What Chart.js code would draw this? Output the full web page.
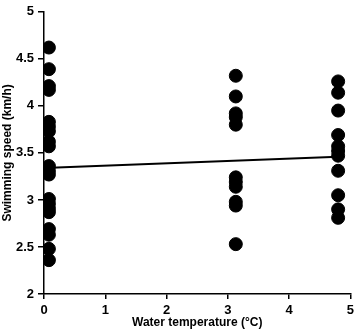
<!DOCTYPE html>
<html>
<head>
<meta charset="utf-8">
<script src="https://cdn.jsdelivr.net/npm/chart.js@4/dist/chart.umd.min.js"></script>
<style>
  html, body { margin: 0; padding: 0; background: #fff; }
  #wrap { width: 358px; height: 331px; }
</style>
</head>
<body>
<div id="wrap"><canvas id="chart" width="358" height="331"></canvas></div>
<script>
  // water temperature of each group (°C)
  const groupTemps = [0.08, 3.13, 4.8];

  // swimming speed (km/h), one list per group
  const speedsAt0 = [4.62, 4.39, 4.21, 4.17, 3.83, 3.78, 3.73, 3.62, 3.57, 3.36, 3.31, 3.27,
    3.01, 2.96, 2.91, 2.87, 2.69, 2.63, 2.48, 2.36];
  const speedsAt3 = [4.32, 4.1, 3.92, 3.88, 3.8, 3.24, 3.19, 3.14, 2.98, 2.94, 2.53];
  const speedsAt5 = [4.26, 4.14, 3.95, 3.69, 3.57, 3.52, 3.47, 3.31, 3.05, 2.9, 2.81];

  // fitted line end points
  const fitTemps = [0, 4.8];
  const fitSpeeds = [3.34, 3.46];

  const xTicks = [0, 1, 2, 3, 4, 5];
  const yTicks = [2, 2.5, 3, 3.5, 4, 4.5, 5];

  const points = [];
  [speedsAt0, speedsAt3, speedsAt5].forEach((list, i) => {
    list.forEach(v => points.push({x: groupTemps[i], y: v}));
  });

  const fitLine = fitTemps.map((t, i) => ({x: t, y: fitSpeeds[i]}));

  const tickFont = {family: '"Liberation Sans", Arial, sans-serif', size: 13, weight: 'bold'};
  const titleFont = {family: '"Liberation Sans", Arial, sans-serif', size: 12, weight: 'bold'};

  new Chart(document.getElementById('chart').getContext('2d'), {
    type: 'scatter',
    data: {
      datasets: [
        {
          data: points,
          backgroundColor: '#000',
          borderColor: '#000',
          pointRadius: 6.5,
          pointHoverRadius: 6.5
        },
        {
          type: 'line',
          data: fitLine,
          borderColor: '#000',
          borderWidth: 2,
          pointRadius: 0,
          fill: false
        }
      ]
    },
    options: {
      responsive: false,
      animation: false,
      layout: {padding: {top: 6, right: 6, left: 0, bottom: 0}},
      scales: {
        x: {
          type: 'linear',
          min: 0,
          max: 5,
          afterBuildTicks: axis => { axis.ticks = xTicks.map(v => ({value: v})); },
          afterFit: axis => { axis.height = 37; },
          border: {display: true, color: '#000', width: 1.5},
          grid: {display: true, drawOnChartArea: false, drawTicks: true, tickLength: 5, color: '#000', lineWidth: 1.5},
          ticks: {color: '#000', font: tickFont, padding: 4, maxRotation: 0, callback: v => String(v)},
          title: {display: true, text: 'Water temperature (°C)', color: '#000', font: titleFont, padding: {top: 0, bottom: 1}}
        },
        y: {
          min: 2,
          max: 5,
          afterBuildTicks: axis => { axis.ticks = yTicks.map(v => ({value: v})); },
          afterFit: axis => { axis.width = 44; },
          border: {display: true, color: '#000', width: 1.5},
          grid: {display: true, drawOnChartArea: false, drawTicks: true, tickLength: 6, color: '#000', lineWidth: 1.5},
          ticks: {color: '#000', font: tickFont, padding: 4, callback: v => String(v)},
          title: {display: true, text: 'Swimming speed (km/h)', color: '#000', font: titleFont, padding: {top: 0, bottom: 0}}
        }
      },
      plugins: {
        legend: {display: false},
        tooltip: {enabled: false}
      }
    }
  });
</script>
</body>
</html>
